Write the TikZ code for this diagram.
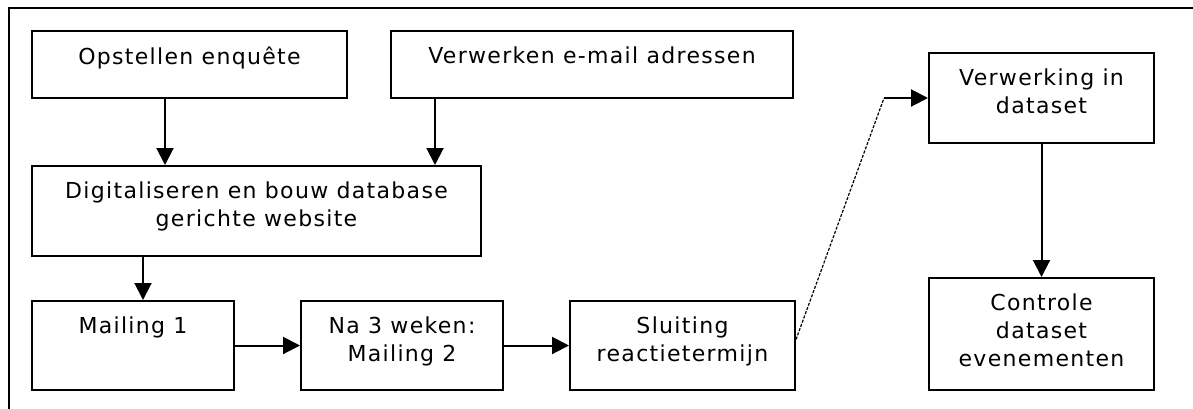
\documentclass[tikz,border=0pt]{standalone}
\usepackage{fontspec}
\setmainfont{DejaVu Sans}[LetterSpace=6]
\usetikzlibrary{arrows.meta}

\tikzset{
  stap/.style={draw, line width=2pt, inner sep=0pt},
  tekst/.style={anchor=north, yshift=-17pt, align=center, inner sep=0pt,
    font=\fontsize{22}{28}\selectfont},
  pijl/.style={line width=2pt, -{Triangle[width=17pt,length=17pt]}},
  stippel/.style={line width=1.2pt, dash pattern=on 3pt off 1.5pt}
}

\begin{document}
\begin{tikzpicture}[x=1pt, y=-1pt]
    \useasboundingbox (0,0) rectangle (1193,408);
    \draw[line width=2pt] (9,8) rectangle (1215,425);

    \node[stap, minimum width=315pt, minimum height=67pt,
        label={[tekst]north:Opstellen enquête}] (opst) at (189.5,64.5) {};
    \node[stap, minimum width=402pt, minimum height=67pt,
        label={[tekst]north:Verwerken e-mail adressen}] (verw) at (592,64.5) {};
    \node[stap, minimum width=449pt, minimum height=90pt,
        label={[tekst]north:Digitaliseren en bouw database\\gerichte website}] (digi) at (256.5,211) {};
    \node[stap, minimum width=202pt, minimum height=89pt,
        label={[tekst]north:Mailing 1}] (mail1) at (133,345.5) {};
    \node[stap, minimum width=202pt, minimum height=89pt,
        label={[tekst]north:Na 3 weken:\\Mailing 2}] (mail2) at (402,345.5) {};
    \node[stap, minimum width=225pt, minimum height=89pt,
        label={[tekst]north:Sluiting\\reactietermijn}] (sluit) at (682.5,345.5) {};
    \node[stap, minimum width=225pt, minimum height=90pt,
        label={[tekst]north:Verwerking in\\dataset}] (verk) at (1041.5,98) {};
    \node[stap, minimum width=225pt, minimum height=112pt,
        label={[tekst]north:Controle\\dataset\\evenementen}] (contr) at (1041.5,334) {};

    % vertical arrows off centre
    \coordinate (o1) at ([xshift=134pt]opst.south west);
    \coordinate (v1) at ([xshift=45pt]verw.south west);
    \coordinate (d1) at ([xshift=112pt]digi.south west);
    \draw[pijl] (o1) -- (o1 |- digi.north);
    \draw[pijl] (v1) -- (v1 |- digi.north);
    \draw[pijl] (d1) -- (d1 |- mail1.north);

    \foreach \a/\b in {mail1/mail2, mail2/sluit} %
        \draw[pijl] (\a.east) -- (\b.west);
    \draw[pijl] (verk.south) -- (contr.north);

    \coordinate (s1) at ([yshift=6pt]sluit.east);
    \coordinate (knik) at ([xshift=-44pt]verk.west);
    \draw[stippel] (s1) -- (knik);
    \draw[pijl] (knik) -- (verk.west);
\end{tikzpicture}
\end{document}
